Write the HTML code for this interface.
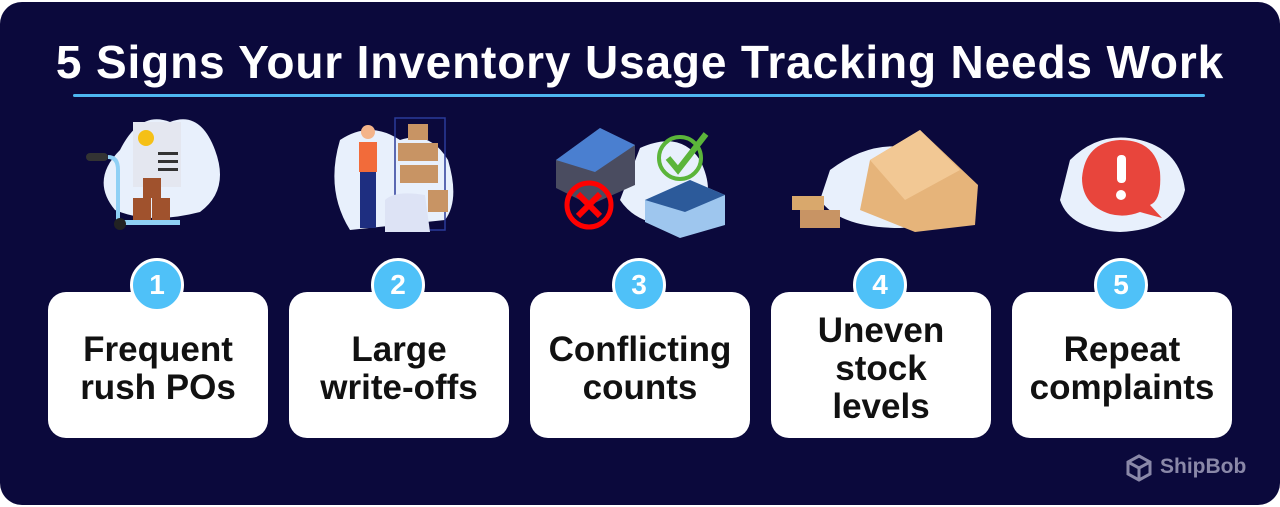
<!DOCTYPE html>
<html><head><meta charset="utf-8"><style>
*{margin:0;padding:0;box-sizing:border-box}
body{width:1280px;height:507px;background:#fff;position:relative;overflow:hidden;font-family:"Liberation Sans",sans-serif}
.card{position:absolute;left:0;top:2px;width:1280px;height:503px;background:#0b093c;border-radius:22px}
h1{position:absolute;left:0;width:1280px;top:35px;text-align:center;color:#fff;font-size:46px;font-weight:bold;letter-spacing:0.85px;white-space:nowrap}
.line{position:absolute;left:73px;top:94px;width:1132px;height:3px;background:#4db6f0;border-radius:2px}
.box{position:absolute;top:292px;width:220px;height:146px;background:#fff;border-radius:18px;display:flex;align-items:center;justify-content:center;text-align:center;font-weight:bold;font-size:35px;line-height:38px;color:#111;padding-top:8px;white-space:nowrap}
.num{position:absolute;z-index:2;top:258px;width:54px;height:54px;border-radius:50%;background:#4fc1f8;border:3px solid #fff;color:#fff;font-weight:bold;font-size:28px;display:flex;align-items:center;justify-content:center}
.logo{position:absolute;left:1125px;top:455px;color:#8a88a8;font-weight:bold;font-size:21px}
svg{position:absolute}
</style></head><body>
<div class="card"></div>
<h1>5 Signs Your Inventory Usage Tracking Needs Work</h1>
<div class="line"></div>
<svg width="1280" height="507" style="left:0;top:0">
<path d="M120 150 Q140 110 170 122 Q200 110 215 150 Q230 190 200 212 Q150 225 115 210 Q90 180 120 150Z" fill="#e8f0fc"/>
<rect x="133" y="122" width="48" height="65" fill="#e4e7f0"/>
<circle cx="146" cy="138" r="8" fill="#f5c016"/>
<rect x="158" y="152" width="20" height="3" fill="#333"/><rect x="158" y="160" width="20" height="3" fill="#333"/><rect x="158" y="168" width="20" height="3" fill="#333"/>
<rect x="86" y="153" width="22" height="8" rx="4" fill="#333"/>
<path d="M108 157 Q118 157 118 170 L118 222" stroke="#8fd0f5" stroke-width="4" fill="none"/>
<rect x="118" y="220" width="62" height="5" fill="#8fd0f5"/>
<circle cx="120" cy="224" r="6" fill="#222"/>
<rect x="143" y="178" width="18" height="20" fill="#a0522d"/><rect x="133" y="198" width="18" height="22" fill="#a0522d"/><rect x="152" y="198" width="18" height="22" fill="#a0522d"/>
<path d="M340 140 Q370 120 400 140 Q430 130 448 160 Q460 200 445 220 L350 230 Q325 190 340 140Z" fill="#e8f0fc"/>
<rect x="395" y="118" width="50" height="112" fill="none" stroke="#2a3a9a" stroke-width="1.5"/>
<rect x="408" y="124" width="20" height="16" fill="#c89464"/><rect x="398" y="143" width="40" height="18" fill="#c89464"/><rect x="400" y="165" width="38" height="18" fill="#c89464"/><rect x="428" y="190" width="20" height="22" fill="#c89464"/>
<path d="M385 200 Q395 190 425 195 L430 232 L385 232Z" fill="#dde3f5"/>
<rect x="359" y="142" width="18" height="30" fill="#f26b3a"/><rect x="360" y="172" width="16" height="56" fill="#1e2e80"/>
<circle cx="368" cy="132" r="7" fill="#f4b48a"/>
<path d="M640 148 Q680 130 700 160 Q720 200 690 225 Q640 230 620 200Z" fill="#e8f0fc"/>
<path d="M556 160 L600 128 L635 145 L635 185 L590 205 L556 188Z" fill="#4a4c60"/><path d="M556 160 L600 128 L635 145 L595 172Z" fill="#4a7fd0"/>
<path d="M645 200 L690 180 L725 195 L725 225 L680 238 L645 222Z" fill="#9ec6ee"/><path d="M645 200 L690 180 L725 195 L685 212Z" fill="#2c5a9a"/>
<circle cx="589" cy="205" r="22" fill="none" stroke="#f00" stroke-width="5"/>
<path d="M578 194 L600 216 M600 194 L578 216" stroke="#f00" stroke-width="6"/>
<circle cx="680" cy="158" r="21" fill="none" stroke="#5bb53a" stroke-width="4"/>
<path d="M668 158 L678 170 L706 134" stroke="#5bb53a" stroke-width="6" fill="none"/>
<path d="M830 170 Q870 140 910 148 Q960 150 970 190 Q960 225 900 228 Q840 228 820 200Z" fill="#e8f0fc"/>
<path d="M870 160 L920 130 L978 185 L975 225 L915 232 L860 210Z" fill="#e6b47a"/>
<path d="M870 160 L920 130 L960 170 L905 200Z" fill="#f2c894"/>
<rect x="792" y="196" width="32" height="14" fill="#d9a86c"/><rect x="800" y="210" width="40" height="18" fill="#c89464"/>
<path d="M1070 160 Q1100 130 1140 140 Q1180 150 1185 190 Q1175 230 1120 232 Q1070 230 1060 200Z" fill="#e8f0fc"/>
<path d="M1120 140 Q1155 140 1160 172 Q1162 200 1150 205 L1162 218 L1140 212 Q1125 218 1110 214 Q1082 205 1082 178 Q1085 142 1120 140Z" fill="#e8453c"/>
<rect x="1117" y="155" width="9" height="28" rx="4" fill="#fff"/><circle cx="1121" cy="195" r="5" fill="#fff"/>
</svg>
<div class="num" style="left:130px">1</div>
<div class="num" style="left:371px">2</div>
<div class="num" style="left:612px">3</div>
<div class="num" style="left:853px">4</div>
<div class="num" style="left:1094px">5</div>
<div class="box" style="left:48px">Frequent<br>rush POs</div>
<div class="box" style="left:289px">Large<br>write-offs</div>
<div class="box" style="left:530px">Conflicting<br>counts</div>
<div class="box" style="left:771px">Uneven<br>stock<br>levels</div>
<div class="box" style="left:1012px">Repeat<br>complaints</div>
<svg width="28" height="30" style="left:1125px;top:453px"><path d="M14 3 L25 9 L25 21 L14 27 L3 21 L3 9Z M3 9 L14 15 L25 9 M14 15 L14 27" fill="none" stroke="#8a88a8" stroke-width="3"/></svg>
<div class="logo" style="left:1160px">ShipBob</div>
</body></html>
